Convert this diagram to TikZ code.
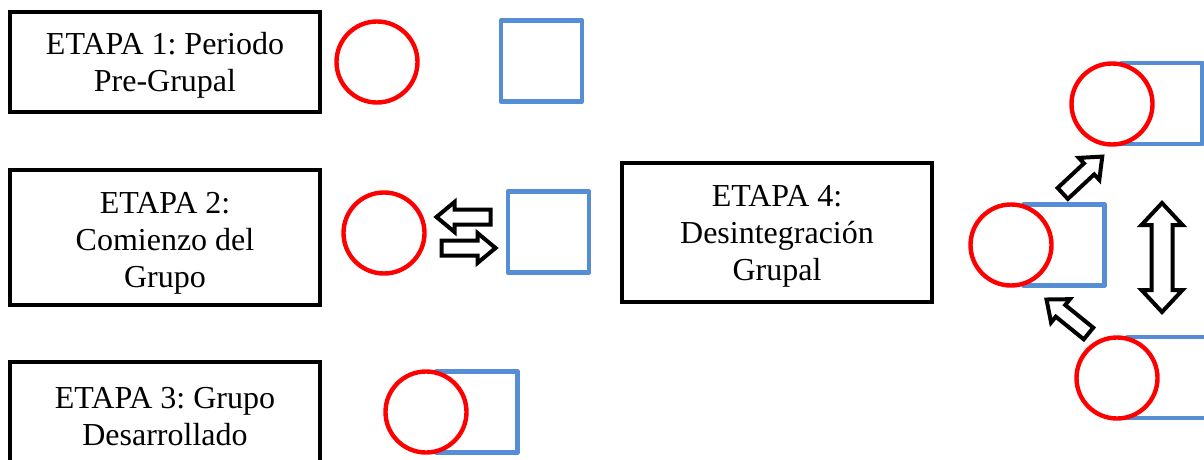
\documentclass[tikz,border=0pt]{standalone}
\usepackage{fontspec}
\setmainfont{Liberation Serif}
\definecolor{azul}{RGB}{85,142,213}
\frenchspacing
\begin{document}
\begin{tikzpicture}[x=0.5pt,y=-0.5pt,
  etapa/.style={draw,line width=2.4pt,minimum width=155pt,align=center,inner sep=0pt,font=\fontsize{16}{18.5}\selectfont},
  anillo/.style={circle,draw=red,line width=2.2pt,fill=white,minimum size=40.5pt,inner sep=0pt},
  cuadro/.style={rectangle,draw=azul,line width=2.2pt,line join=round,minimum size=40.5pt,inner sep=0pt},
  bloque/.style={draw,line width=2pt,fill=white,line join=miter},
  flechita/.pic={\draw[bloque] (-27,-7.5)--(9,-7.5)--(9,-15)--(27,0)--(9,15)--(9,7.5)--(-27,7.5)--cycle;},
  flechadoble/.pic={\draw[bloque] (-32.5,-10.5)--(32.5,-10.5)--(32.5,-20.5)--(54.5,0)--(32.5,20.5)--(32.5,10.5)--(-32.5,10.5)--(-32.5,20.5)--(-54.5,0)--(-32.5,-20.5)--cycle;}]
\useasboundingbox (0,0) rectangle (1204,460);
\clip (0,0) rectangle (1204,460);
% etapas
\node[etapa,minimum height=50pt] (e1) at (165,62) {};
\node[align=center,font=\fontsize{16}{18.5}\selectfont] (t1) at (165,65) {ETAPA 1: Periodo\\Pre-Grupal};
\node[etapa,minimum height=67.5pt] (e2) at (165,237.5) {};
\node[align=center,font=\fontsize{16}{18.5}\selectfont] (t2) at (165,243) {ETAPA 2:\\Comienzo del\\Grupo};
\node[etapa,minimum height=55pt] (e3) at (165,417) {};
\node[align=center,font=\fontsize{16}{18.5}\selectfont] (t3) at (165,417) {ETAPA 3: Grupo\\Desarrollado};
\node[etapa,minimum height=69.5pt] (e4) at (777,232.5) {};
\node[align=center,font=\fontsize{16}{18.5}\selectfont] (t4) at (777,236) {ETAPA 4:\\Desintegración\\Grupal};
% cuadros
\node[cuadro] (s1) at (541.5,61) {};
\node[cuadro] (s2) at (548.5,232) {};
\node[cuadro] (s3) at (477,412) {};
\node[cuadro] (s4) at (1064,245) {};
\node[cuadro] (s5) at (1162,103.5) {};
\node[cuadro] (s6) at (1168,377.5) {};
% circulos
\node[anillo] (c1) at (377,62) {};
\node[anillo] (c2) at (384,233) {};
\node[anillo] (c3) at (426,412) {};
\node[anillo] (c4) at (1011,245) {};
\node[anillo] (c5) at (1112,104) {};
\node[anillo] (c6) at (1117,378) {};
% flechas
\pic[rotate=180] (f1) at (463.5,217) {flechita};
\pic (f2) at (468.5,248) {flechita};
\pic[rotate=43] (f3) at (1082.5,175) {flechita};
\pic[rotate=141] (f4) at (1067.5,316.5) {flechita};
\pic[rotate=90] (f5) at (1162,257.5) {flechadoble};
\end{tikzpicture}
\end{document}
